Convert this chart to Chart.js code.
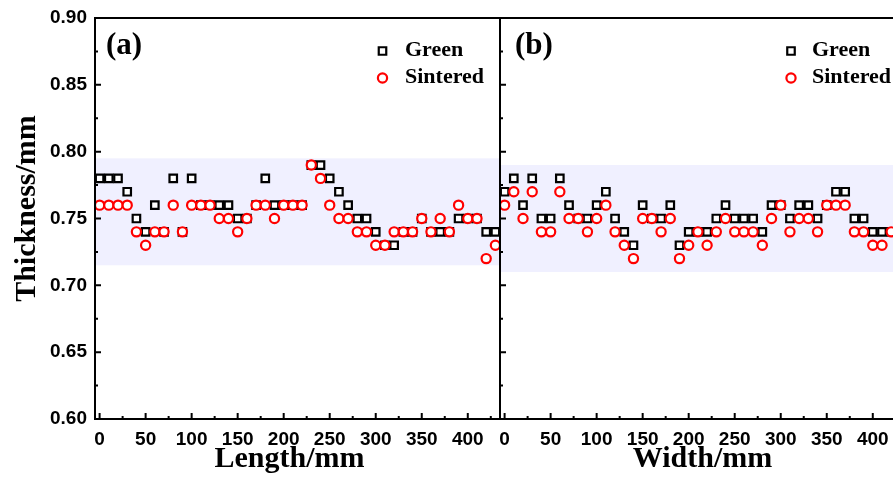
<!DOCTYPE html>
<html><head><meta charset="utf-8">
<script src="https://cdn.jsdelivr.net/npm/chart.js@4.4.1/dist/chart.umd.min.js"></script>
<style>
html,body{margin:0;padding:0;background:#fff;overflow:hidden;width:893px;height:480px;}
#wrap{position:relative;width:893px;height:480px;overflow:hidden;background:#fff;}
.box{position:absolute;top:0;height:480px;}
canvas{display:block;}
</style></head><body>
<div id="wrap">
<div class="box" style="left:0;width:502px"><canvas id="ca" width="502" height="480"></canvas></div>
<div class="box" style="left:498px;width:415px"><canvas id="cb" width="415" height="480"></canvas></div>
</div>
<script>
// ---- data ----
const xTicks = [0, 50, 100, 150, 200, 250, 300, 350, 400];
const xMinor = [25, 75, 125, 175, 225, 275, 325, 375, 425];
const yTicks = [0.60, 0.65, 0.70, 0.75, 0.80, 0.85, 0.90];
const yMinor = [0.625, 0.675, 0.725, 0.775, 0.825, 0.875];

const lengthPos = [0,10,20,30,40,50,60,70,80,90,100,110,120,130,140,150,160,170,180,190,200,210,220,230,240,250,260,270,280,290,300,310,320,330,340,350,360,370,380,390,400,410,420,430];
const greenA    = [0.78,0.78,0.78,0.77,0.75,0.74,0.76,0.74,0.78,0.74,0.78,0.76,0.76,0.76,0.76,0.75,0.75,0.76,0.78,0.76,0.76,0.76,0.76,0.79,0.79,0.78,0.77,0.76,0.75,0.75,0.74,0.73,0.73,0.74,0.74,0.75,0.74,0.74,0.74,0.75,0.75,0.75,0.74,0.74];
const sinteredA = [0.76,0.76,0.76,0.76,0.74,0.73,0.74,0.74,0.76,0.74,0.76,0.76,0.76,0.75,0.75,0.74,0.75,0.76,0.76,0.75,0.76,0.76,0.76,0.79,0.78,0.76,0.75,0.75,0.74,0.74,0.73,0.73,0.74,0.74,0.74,0.75,0.74,0.75,0.74,0.76,0.75,0.75,0.72,0.73];

const widthPos  = [0,10,20,30,40,50,60,70,80,90,100,110,120,130,140,150,160,170,180,190,200,210,220,230,240,250,260,270,280,290,300,310,320,330,340,350,360,370,380,390,400,410,420];
const greenB    = [0.77,0.78,0.76,0.78,0.75,0.75,0.78,0.76,0.75,0.75,0.76,0.77,0.75,0.74,0.73,0.76,0.75,0.75,0.76,0.73,0.74,0.74,0.74,0.75,0.76,0.75,0.75,0.75,0.74,0.76,0.76,0.75,0.76,0.76,0.75,0.76,0.77,0.77,0.75,0.75,0.74,0.74,0.74];
const sinteredB = [0.76,0.77,0.75,0.77,0.74,0.74,0.77,0.75,0.75,0.74,0.75,0.76,0.74,0.73,0.72,0.75,0.75,0.74,0.75,0.72,0.73,0.74,0.73,0.74,0.75,0.74,0.74,0.74,0.73,0.75,0.76,0.74,0.75,0.75,0.74,0.76,0.76,0.76,0.74,0.74,0.73,0.73,0.74];

const bandA = [0.715, 0.795];
const bandB = [0.71, 0.79];
const seriesNames = ['Green', 'Sintered'];

// ---- helpers ----
const SERIF = '"Liberation Serif","Times New Roman",serif';
const SANS = '"Liberation Sans",Arial,sans-serif';
const SQ_R = 5.3, CI_R = 4.6, MK_W = 2.2;
function pts(xs, ys){ return xs.map((x,i)=>({x:x, y:ys[i]})); }

function makePlugin(o){
  return {
    id: 'deco',
    beforeDatasetsDraw(chart){
      const {ctx, chartArea:a, scales:{y}} = chart;
      const t = y.getPixelForValue(o.band[1]), b = y.getPixelForValue(o.band[0]);
      ctx.save(); ctx.fillStyle = 'rgb(240,240,255)';
      ctx.fillRect(a.left, t, a.right - a.left, b - t);
      ctx.restore();
    },
    afterDraw(chart){
      const {ctx, chartArea:a, scales:{x, y}} = chart;
      ctx.save();
      ctx.strokeStyle = '#000'; ctx.lineWidth = 2; ctx.lineCap = 'square';
      ctx.beginPath();
      ctx.moveTo(a.left, a.top); ctx.lineTo(a.left, a.bottom); ctx.lineTo(a.right, a.bottom);
      ctx.moveTo(a.left, a.top); ctx.lineTo(a.right, a.top);
      if (o.rightBorder){ ctx.lineTo(a.right, a.bottom); }
      ctx.stroke();
      ctx.lineCap = 'butt';
      ctx.beginPath();
      xTicks.forEach(v=>{ const p = x.getPixelForValue(v); ctx.moveTo(p, a.bottom); ctx.lineTo(p, a.bottom - 6); });
      xMinor.forEach(v=>{ const p = x.getPixelForValue(v); if (p < a.right - 2){ ctx.moveTo(p, a.bottom); ctx.lineTo(p, a.bottom - 3); } });
      yTicks.forEach(v=>{ const p = y.getPixelForValue(v); ctx.moveTo(a.left, p); ctx.lineTo(a.left + 6, p); });
      yMinor.forEach(v=>{ const p = y.getPixelForValue(v); ctx.moveTo(a.left, p); ctx.lineTo(a.left + 3, p); });
      ctx.stroke();

      ctx.fillStyle = '#000';
      ctx.textBaseline = 'alphabetic';
      // axis titles
      ctx.font = 'bold 30px ' + SERIF;
      ctx.textAlign = 'center';
      ctx.fillText(o.xTitle, o.xTitleX, 467);
      if (o.yTitle){
        ctx.save(); ctx.translate(35, 208.5); ctx.rotate(-Math.PI/2);
        ctx.fillText(o.yTitle, 0, 0); ctx.restore();
      }
      // panel label
      ctx.font = 'bold 31px ' + SERIF;
      ctx.textAlign = 'left';
      ctx.fillText(o.panel, o.panelX, 54);
      // legend
      const lx = o.legX;
      ctx.lineWidth = MK_W;
      ctx.strokeStyle = '#000'; ctx.fillStyle = '#fff';
      const hs = SQ_R * Math.SQRT1_2;
      ctx.beginPath(); ctx.rect(lx - hs, 51 - hs, 2*hs, 2*hs); ctx.fill(); ctx.stroke();
      ctx.strokeStyle = '#ff0000';
      ctx.beginPath(); ctx.arc(lx, 78, CI_R, 0, Math.PI*2); ctx.fill(); ctx.stroke();
      ctx.fillStyle = '#000';
      ctx.font = 'bold 22px ' + SERIF;
      ctx.fillText(seriesNames[0], o.legTextX, 56);
      ctx.fillText(seriesNames[1], o.legTextX, 83);
      ctx.restore();
    }
  };
}

function makeChart(id, xs, g, s, o){
  return new Chart(document.getElementById(id), {
    type: 'scatter',
    data: { datasets: [
      { label: seriesNames[0], data: pts(xs, g), order: 1, pointStyle: 'rect', pointRadius: SQ_R,
        borderColor: '#000', backgroundColor: '#fff', borderWidth: MK_W, pointHoverRadius: SQ_R },
      { label: seriesNames[1], data: pts(xs, s), order: 0, pointStyle: 'circle', pointRadius: CI_R,
        borderColor: '#ff0000', backgroundColor: '#fff', borderWidth: MK_W, pointHoverRadius: CI_R }
    ]},
    options: {
      responsive: false, animation: false, events: [],
      layout: { autoPadding: false, padding: { top: 18, right: o.padRight, left: o.padLeft, bottom: 0 } },
      plugins: { legend: { display: false }, tooltip: { enabled: false } },
      scales: {
        x: { type: 'linear', min: -5, max: 435,
          grid: { display: false, drawTicks: false }, border: { display: false },
          afterFit(sc){ sc.height = 61; sc.paddingLeft = 0; sc.paddingRight = 0; },
          afterBuildTicks(sc){ sc.ticks = xTicks.map(v=>({value:v})); },
          ticks: { color: '#000', padding: 9, maxRotation: 0, autoSkip: false,
            font: { family: SANS, size: 19, weight: 'bold' } } },
        y: { type: 'linear', min: 0.60, max: 0.90,
          grid: { display: false, drawTicks: false }, border: { display: false },
          afterFit(sc){ sc.width = o.yWidth; sc.paddingTop = 0; sc.paddingBottom = 0; },
          afterBuildTicks(sc){ sc.ticks = yTicks.map(v=>({value:v})); },
          ticks: { display: o.yLabels, color: '#000', padding: 8,
            font: { family: SANS, size: 19, weight: 'bold' },
            callback: v => Number(v).toFixed(2) } }
      }
    },
    plugins: [makePlugin(o)]
  });
}

makeChart('ca', lengthPos, greenA, sinteredA, {
  band: bandA, rightBorder: true, xTitle: 'Length/mm', xTitleX: 289.5, yTitle: 'Thickness/mm',
  panel: '(a)', panelX: 106, legX: 382.5, legTextX: 405, padRight: 2, padLeft: 0, yWidth: 95, yLabels: true
});
makeChart('cb', widthPos, greenB, sinteredB, {
  band: bandB, rightBorder: false, xTitle: 'Width/mm', xTitleX: 204.5, yTitle: null,
  panel: '(b)', panelX: 17, legX: 293, legTextX: 314, padRight: 8, padLeft: 2, yWidth: 0, yLabels: false
});
</script>
</body></html>
